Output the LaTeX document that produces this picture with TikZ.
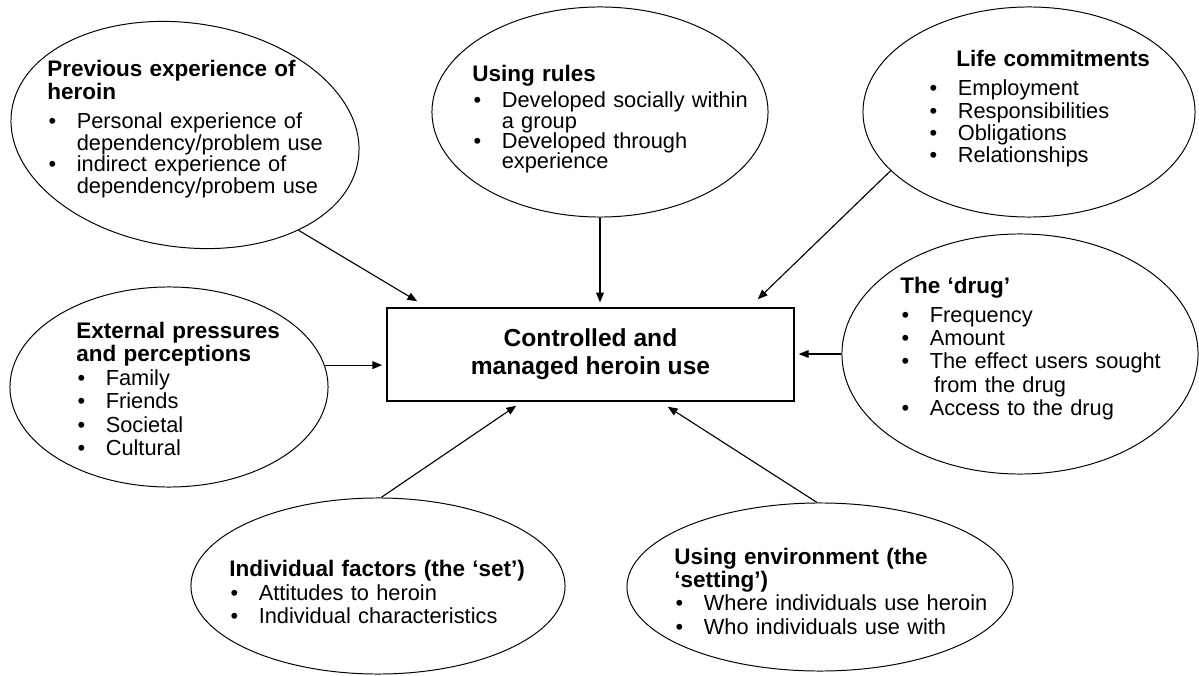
\documentclass[tikz,border=0pt]{standalone}
\usepackage{fontspec}
\setmainfont{Liberation Sans}
\usetikzlibrary{shapes.geometric, arrows.meta, positioning}

% heading line(s) of a bubble, optional gap below
\newcommand{\hd}[2][0pt]{\noindent{\fontsize{16}{16.5}\selectfont\bfseries #2\par}\vspace{#1}}
% bullet item with hanging indent
\newcommand{\bitem}[1]{\par\noindent\hangindent=21pt\hangafter=1\makebox[21pt][l]{\hspace{1pt}\textbullet}#1\par}

\begin{document}
\begin{tikzpicture}[
    x=0.025cm, y=-0.025cm,
    % Node styles
    bubble/.style={ellipse, draw, line width=0.7pt, inner sep=0pt},
    hub/.style={rectangle, draw, line width=1pt, minimum width=10.175cm, minimum height=2.325cm, align=center,
        font=\fontsize{17.5}{20}\selectfont\bfseries},
    txt/.style={anchor=north west, inner sep=0pt, text width=9cm, align=left, font=\fontsize{15.5}{#1}\selectfont},
    arrow/.style={-{Triangle[length=7pt, width=5.5pt]}, line width=0.8pt},
]
\useasboundingbox (0,0) rectangle (1199,676);

% ============================================================================
% CENTRE
% ============================================================================
\node[hub] (box) at (590.5,354.5) {Controlled and\\managed heroin use};

% ============================================================================
% BUBBLES
% ============================================================================
\node[bubble, minimum width=8.75cm, minimum height=5.6cm, rotate=-8] (prev) at (185,135) {};
\node[bubble, minimum width=8.4cm, minimum height=5.25cm] (rules) at (600,112) {};
\node[bubble, minimum width=8.3cm, minimum height=5.25cm] (life) at (1029,112) {};
\node[bubble, minimum width=8.9cm, minimum height=6cm] (drug) at (1020,354) {};
\node[bubble, minimum width=7.95cm, minimum height=5cm] (ext) at (169,387) {};
\node[bubble, minimum width=9.35cm, minimum height=4.4cm] (indiv) at (378,586) {};
\node[bubble, minimum width=9.65cm, minimum height=4.2cm] (env) at (820,587) {};

% Texts
\node[txt=15.4pt] (prevtxt) at (47,60) {\hd[5pt]{Previous experience of\newline heroin}%
    \bitem{Personal experience of\newline dependency/problem use}%
    \bitem{indirect experience of\newline dependency/probem use}};
\node[txt=14.5pt] (rulestxt) at (472,65) {\hd[3pt]{Using rules}%
    \bitem{Developed socially within\newline a group}%
    \bitem{Developed through\newline experience}};
\node[txt=15.8pt] (lifetxt) at (928,50) {\hd[5pt]{\hspace*{20pt}Life commitments}%
    \bitem{Employment}\bitem{Responsibilities}\bitem{Obligations}\bitem{Relationships}};
\node[txt=16.5pt] (drugtxt) at (900,277) {\hd[4pt]{The ‘drug’}%
    \bitem{Frequency}\bitem{Amount}%
    \bitem{The effect users sought\newline\hspace*{3pt}from the drug}%
    \bitem{Access to the drug}};
\node[txt=16.7pt] (exttxt) at (76,322) {\hd{External pressures\newline and perceptions}%
    \bitem{Family}\bitem{Friends}\bitem{Societal}\bitem{Cultural}};
\node[txt=16.7pt] (indivtxt) at (229,560) {\hd{Individual factors (the ‘set’)}%
    \bitem{Attitudes to heroin}\bitem{Individual characteristics}};
\node[txt=16.5pt] (envtxt) at (674,548) {\hd{Using environment (the\newline ‘setting’)}%
    \bitem{Where individuals use heroin}\bitem{Who individuals use with}};

% ============================================================================
% ARROWS
% ============================================================================
\draw[arrow] (prev.-32) -- ([xshift=0.775cm, yshift=0.15cm]box.north west);
\draw[arrow, shorten >=0.12cm] (rules.south) -- (rules.south |- box.north);
\draw[arrow] (life.203) -- ([xshift=-0.925cm, yshift=0.2cm]box.north east);
\draw[arrow, shorten >=0.1cm] (drug.west) -- (drug.west -| box.east);
\draw[arrow, shorten >=0.1cm] (ext.8) -- (ext.8 -| box.west);
\draw[arrow] (indiv.88) -- ([xshift=3.25cm, yshift=-0.1cm]box.south west);
\draw[arrow] (env.92) -- ([xshift=-3.175cm, yshift=-0.125cm]box.south east);

\end{tikzpicture}
\end{document}
